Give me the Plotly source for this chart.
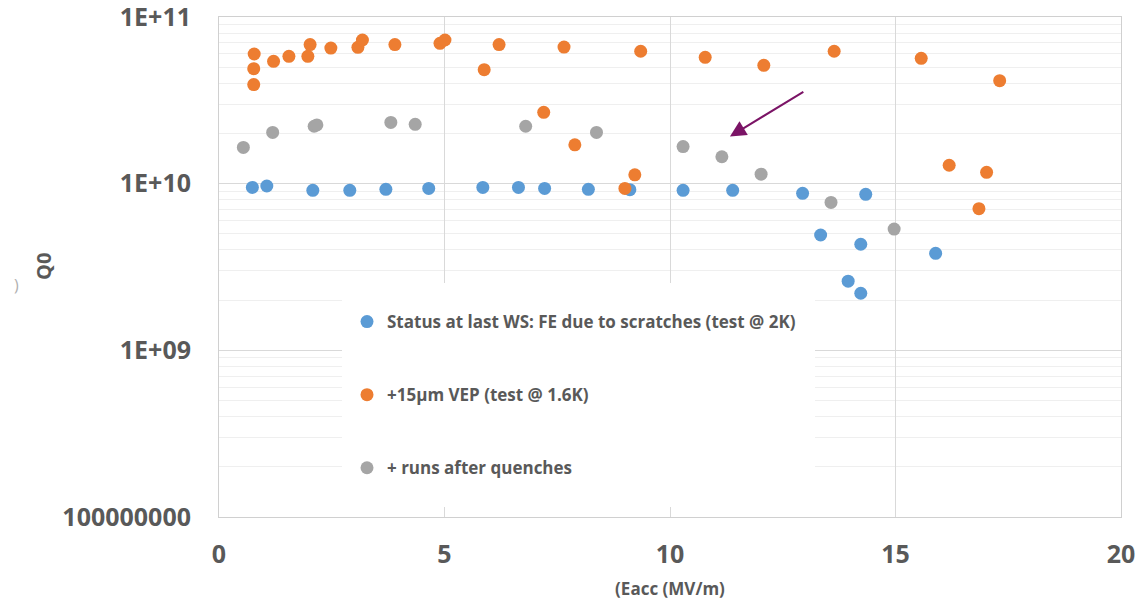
import math
import plotly.graph_objects as go

# Eacc (MV/m) and Q0 for each test series
ws_eacc = [0.74, 1.06, 2.08, 2.90, 3.70, 4.65, 5.85, 6.64, 7.22, 8.19, 9.11,
           10.29, 11.39, 12.94, 14.34, 13.34, 14.23, 15.89, 13.95, 14.23]
ws_q0 = [9.5e9, 9.68e9, 9.12e9, 9.12e9, 9.25e9, 9.37e9, 9.5e9, 9.5e9, 9.37e9, 9.25e9, 9.2e9,
         9.12e9, 9.12e9, 8.75e9, 8.63e9, 4.92e9, 4.33e9, 3.82e9, 2.6e9, 2.2e9]

vep_eacc = [0.78, 0.77, 0.77, 1.21, 1.55, 1.97, 2.02, 2.48, 3.08, 3.18, 3.90, 4.90, 5.01,
            5.88, 6.21, 7.65, 9.35, 7.20, 7.89, 9.22, 9.00, 10.78, 12.08, 13.64, 15.57,
            17.31, 16.19, 17.02, 16.85]
vep_q0 = [6.0e10, 4.9e10, 3.93e10, 5.42e10, 5.81e10, 5.81e10, 6.83e10, 6.51e10, 6.58e10,
          7.28e10, 6.83e10, 6.95e10, 7.28e10, 4.83e10, 6.83e10, 6.6e10, 6.23e10, 2.68e10,
          1.71e10, 1.13e10, 9.37e9, 5.73e10, 5.13e10, 6.23e10, 5.65e10, 4.15e10, 1.29e10,
          1.17e10, 7.08e9]

quench_eacc = [0.54, 1.19, 2.11, 2.17, 3.81, 4.35, 6.80, 8.37, 10.29, 11.15, 12.02, 13.57, 14.97]
quench_q0 = [1.65e10, 2.03e10, 2.21e10, 2.25e10, 2.33e10, 2.27e10, 2.21e10, 2.03e10,
             1.67e10, 1.45e10, 1.14e10, 7.72e9, 5.34e9]

series_names = ["Status at last WS: FE due to scratches (test @ 2K)",
                "+15µm VEP (test @ 1.6K)",
                "+ runs after quenches"]
series_colors = ["#5B9BD5", "#ED7D31", "#A5A5A5"]

y_tick_vals = [1e8, 1e9, 1e10, 1e11]
y_tick_text = ["100000000", "1E+09", "1E+10", "1E+11"]
x_tick_vals = [0, 5, 10, 15, 20]

# arrow pointing at the quench runs: tail and head in (Eacc, Q0)
arrow_tail = (12.99, 3.6e10)
arrow_head = (11.33, 1.92e10)

minor_vals = [k * 10 ** e for e in range(8, 11) for k in range(2, 10)]

fig = go.Figure()
for name, color, xs, ys in zip(series_names, series_colors,
                               [ws_eacc, vep_eacc, quench_eacc],
                               [ws_q0, vep_q0, quench_q0]):
    fig.add_trace(go.Scatter(
        x=xs, y=ys, mode="markers", name=name, legendgroup=name,
        marker=dict(color=color, size=13, line=dict(width=0)),
    ))

tick_font = dict(family="Open Sans", size=25, color="#595959", weight="bold")
grey_text = "#595959"

# plot area spans pixels x 219..1121, y 17..517
L, T, W, H = 219, 17, 902, 500


def px_to_paper(px, py):
    return (px - L) / W, (T + H - py) / H


box_x0, box_y0 = px_to_paper(342, 507)
box_x1, box_y1 = px_to_paper(815, 283)
leg_x, leg_y = px_to_paper(347, 304)
paren_x, paren_y = px_to_paper(16, 285)
q0_x, q0_y = px_to_paper(43, 267)

fig.update_layout(
    width=1142, height=600,
    margin=dict(l=L, r=1142 - L - W, t=T, b=600 - T - H),
    plot_bgcolor="white", paper_bgcolor="white",
    showlegend=True,
    legend=dict(
        x=leg_x, y=leg_y, xanchor="left", yanchor="top",
        bgcolor="rgba(0,0,0,0)", borderwidth=0,
        font=dict(family="Open Sans", size=17, color=grey_text, weight="bold"),
        tracegroupgap=48, itemwidth=30,
    ),
    xaxis=dict(
        range=[0, 20], tickvals=x_tick_vals, automargin=False,
        showgrid=True, gridcolor="#d9d9d9", gridwidth=1,
        showline=True, linecolor="#d0d0d0", linewidth=1, mirror=True,
        zeroline=False, ticks="", ticklabelstandoff=15,
        tickfont=tick_font,
        title=dict(text="(Eacc (MV/m)",
                   font=dict(family="Open Sans", size=17, color=grey_text, weight="bold")),
    ),
    yaxis=dict(
        type="log", range=[7.99999, 11.00001], automargin=False,
        tickvals=y_tick_vals, ticktext=y_tick_text,
        ticklabeloverflow="allow",
        showgrid=True, gridcolor="#d9d9d9", gridwidth=1,
        minor=dict(tickvals=minor_vals, showgrid=True, gridcolor="#efefef", gridwidth=1, ticks=""),
        showline=True, linecolor="#d0d0d0", linewidth=1, mirror=True,
        zeroline=False, ticks="", ticklabelstandoff=22,
        tickfont=tick_font,
    ),
    shapes=[dict(type="rect", xref="paper", yref="paper",
                 x0=box_x0, x1=box_x1, y0=box_y0, y1=box_y1,
                 fillcolor="white", line=dict(width=0), layer="above")],
    annotations=[
        dict(x=arrow_head[0], y=math.log10(arrow_head[1]), xref="x", yref="y",
             ax=arrow_tail[0], ay=math.log10(arrow_tail[1]), axref="x", ayref="y",
             text="", showarrow=True, arrowhead=2, arrowsize=1.6, arrowwidth=2,
             arrowcolor="#7B1466"),
        # y-axis title
        dict(x=q0_x, y=q0_y, xref="paper", yref="paper", text="Q0", textangle=-90,
             xanchor="center", yanchor="middle", showarrow=False,
             font=dict(family="Open Sans", size=20, color=grey_text, weight="bold")),
        dict(x=paren_x, y=paren_y, xref="paper", yref="paper", text=")",
             xanchor="center", yanchor="middle", showarrow=False,
             font=dict(family="Open Sans", size=16, color="#b0b0b0")),
    ],
)

fig.write_html("out.html")
